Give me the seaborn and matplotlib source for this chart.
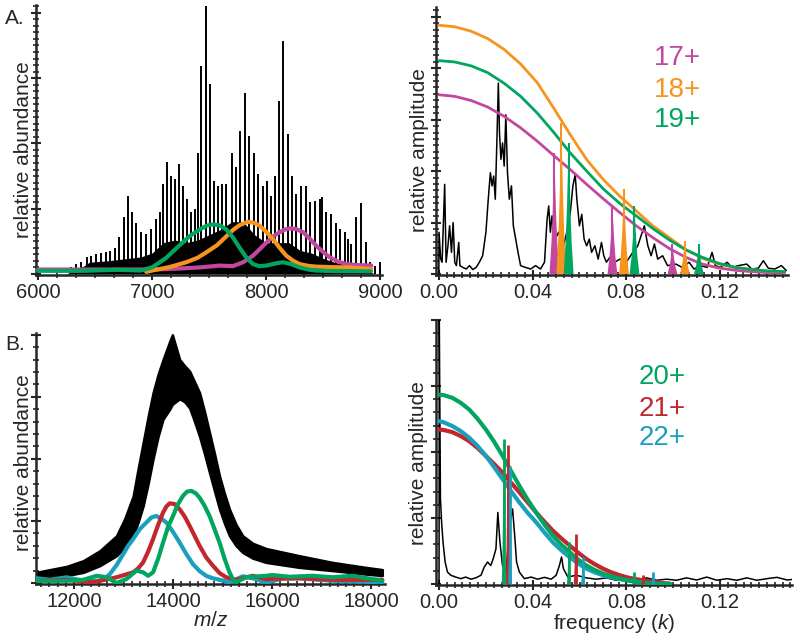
import numpy as np
import matplotlib
matplotlib.use("Agg")
import matplotlib.pyplot as plt
from matplotlib.ticker import AutoMinorLocator, FixedLocator, MultipleLocator, FormatStrFormatter
import seaborn as sns

sns.set_style("ticks")
plt.rcParams['font.family'] = ['Liberation Sans', 'DejaVu Sans']
plt.rcParams['mathtext.fontset'] = 'custom'
plt.rcParams['mathtext.rm'] = 'Liberation Sans'
plt.rcParams['mathtext.it'] = 'Liberation Sans:italic'

MAGENTA = "#C2479E"
ORANGE = "#F7941D"
GREEN = "#00A560"
RED = "#C1272D"
CYAN = "#1AA0BD"

# ---------------- Panel A, mass spectrum ----------------
a_peak_mz = [6292, 6336, 6380, 6430, 6468, 6512, 6556, 6594, 6629, 6673, 6711, 6751, 6790, 6827,
             6863, 6906, 6950, 6994, 7038, 7067, 7096, 7132, 7170, 7199, 7234, 7272, 7307, 7345,
             7374, 7404, 7433, 7471, 7506, 7541, 7579, 7617, 7652, 7702, 7740, 7775, 7813, 7851,
             7892, 7930, 7974, 8012, 8047, 8079, 8114, 8149, 8193, 8231, 8266, 8310, 8348, 8383,
             8427, 8471, 8494, 8529, 8573, 8617, 8646, 8690, 8719, 8749, 8787, 8836, 8874, 8909,
             8953, 8997]
a_peak_int = [0.025, 0.038, 0.045, 0.064, 0.07, 0.076, 0.08, 0.083, 0.089, 0.10, 0.14, 0.217, 0.30, 0.236,
              0.195, 0.16, 0.153, 0.172, 0.21, 0.236, 0.344, 0.427, 0.376, 0.363, 0.42, 0.338, 0.287, 0.236,
              0.248, 0.462, 0.796, 1.028, 0.726, 0.357, 0.338, 0.344, 0.344, 0.465, 0.408, 0.548, 0.694, 0.529,
              0.465, 0.382, 0.338, 0.357, 0.30, 0.376, 0.662, 0.892, 0.535, 0.376, 0.306, 0.338, 0.338, 0.274,
              0.28, 0.287, 0.293, 0.236, 0.229, 0.197, 0.172, 0.159, 0.134, 0.115, 0.217, 0.271, 0.121, 0.045,
              0.032, 0.045]
a_base_mz = [6250, 6300, 6400, 6450, 6600, 6700, 6800, 6900, 7000, 7100, 7200, 7300, 7400, 7500,
             7600, 7700, 7800, 7900, 8000, 8100, 8200, 8300, 8400, 8500, 8600, 8700, 8800, 8900, 8950]
a_base_int = [0.0, 0.012, 0.03, 0.045, 0.05, 0.055, 0.06, 0.065, 0.08, 0.12, 0.13, 0.12, 0.13, 0.15,
              0.17, 0.2, 0.2, 0.15, 0.12, 0.12, 0.12, 0.09, 0.08, 0.06, 0.045, 0.035, 0.025, 0.012, 0.0]

a_mz_19 = [6000, 6400, 6700, 6900, 7000, 7120, 7242, 7330, 7418, 7480, 7535, 7595, 7652, 7710, 7769,
           7830, 7886, 7940, 8003, 8080, 8149, 8220, 8295, 8370, 8441, 8600, 8920]
a_int_19 = [0.012, 0.012, 0.016, 0.013, 0.025, 0.06, 0.11, 0.145, 0.17, 0.185, 0.19, 0.186, 0.17, 0.14, 0.10,
            0.062, 0.038, 0.03, 0.032, 0.04, 0.045, 0.038, 0.025, 0.017, 0.013, 0.011, 0.01]
a_mz_18 = [6950, 7000, 7150, 7301, 7400, 7477, 7570, 7652, 7715, 7769, 7842, 7900, 7944, 8000, 8061,
           8120, 8178, 8240, 8295, 8370, 8441, 8600, 8734, 8924]
a_int_18 = [0.008, 0.013, 0.026, 0.045, 0.062, 0.083, 0.11, 0.144, 0.17, 0.187, 0.2, 0.195, 0.185, 0.162, 0.134,
            0.1, 0.07, 0.05, 0.038, 0.031, 0.028, 0.026, 0.025, 0.019]
a_mz_17 = [6000, 6500, 7000, 7200, 7418, 7593, 7710, 7800, 7886, 7945, 8003, 8060, 8120, 8170, 8216,
           8270, 8325, 8385, 8441, 8500, 8558, 8630, 8705, 8800, 8924]
a_int_17 = [0.017, 0.017, 0.017, 0.02, 0.025, 0.032, 0.03, 0.045, 0.07, 0.095, 0.12, 0.143, 0.16, 0.171, 0.175,
            0.171, 0.16, 0.135, 0.108, 0.085, 0.064, 0.048, 0.038, 0.034, 0.032]

# ---------------- Panel A, frequency spectrum ----------------
a_k = [0.0, 0.0001, 0.0008, 0.0014, 0.0025, 0.0031, 0.0039, 0.0046, 0.0054, 0.0061, 0.0068, 0.0075,
       0.0085, 0.009, 0.0103, 0.0117, 0.0131, 0.0145, 0.0159, 0.0173, 0.0187, 0.0201, 0.0211, 0.022,
       0.0227, 0.0234, 0.0241, 0.0248, 0.0254, 0.0259, 0.0265, 0.0272, 0.0279, 0.0286, 0.0293, 0.0301,
       0.031, 0.0318, 0.0328, 0.0338, 0.0349, 0.037, 0.0392, 0.0413, 0.0434, 0.0451, 0.0462, 0.0469,
       0.0476, 0.0483, 0.0497, 0.0511, 0.0532, 0.0546, 0.0561, 0.0572, 0.0582, 0.0589, 0.06, 0.061,
       0.062, 0.0631, 0.0642, 0.0652, 0.0666, 0.068, 0.0694, 0.0704, 0.0715, 0.073, 0.0751, 0.0772,
       0.08, 0.0828, 0.0849, 0.0868, 0.0877, 0.0892, 0.0906, 0.092, 0.0934, 0.0955, 0.0976, 0.1011,
       0.1039, 0.1068, 0.1089, 0.1117, 0.1145, 0.1166, 0.118, 0.1201, 0.123, 0.1251, 0.1279, 0.1314,
       0.1335, 0.1363, 0.1385, 0.1406, 0.1434, 0.1462, 0.1483]
a_amp = [0.0, 0.16, 0.057, 0.045, 0.344, 0.045, 0.108, 0.185, 0.083, 0.197, 0.045, 0.032,
         0.121, 0.032, 0.025, 0.019, 0.032, 0.017, 0.025, 0.045, 0.07, 0.16, 0.287, 0.389,
         0.338, 0.376, 0.287, 0.516, 0.733, 0.541, 0.44, 0.503, 0.414, 0.611, 0.389, 0.287,
         0.338, 0.185, 0.134, 0.083, 0.032, 0.025, 0.019, 0.032, 0.019, 0.045, 0.21, 0.261,
         0.16, 0.223, 0.134, 0.16, 0.108, 0.16, 0.236, 0.338, 0.382, 0.287, 0.185, 0.229,
         0.134, 0.108, 0.134, 0.083, 0.108, 0.057, 0.121, 0.07, 0.045, 0.064, 0.045, 0.057,
         0.045, 0.083, 0.108, 0.16, 0.185, 0.108, 0.07, 0.115, 0.057, 0.07, 0.032, 0.038,
         0.025, 0.045, 0.019, 0.032, 0.025, 0.083, 0.032, 0.025, 0.045, 0.025, 0.032, 0.038,
         0.019, 0.022, 0.051, 0.022, 0.019, 0.032, 0.013]
a_env_k = [0.0, 0.00676, 0.0138, 0.02085, 0.02789, 0.03493, 0.04197, 0.04901, 0.05606, 0.0631, 0.07014,
           0.07718, 0.08423, 0.09127, 0.09831, 0.10535, 0.1124, 0.11944, 0.12648, 0.13352, 0.14056, 0.14761]
a_env_18 = [0.955, 0.949, 0.932, 0.904, 0.862, 0.806, 0.735, 0.637, 0.535, 0.439, 0.363,
            0.299, 0.242, 0.185, 0.14, 0.093, 0.06, 0.038, 0.025, 0.017, 0.011, 0.008]
a_env_19 = [0.819, 0.814, 0.799, 0.773, 0.732, 0.682, 0.618, 0.544, 0.465, 0.395, 0.327,
            0.271, 0.223, 0.175, 0.131, 0.093, 0.064, 0.041, 0.025, 0.017, 0.011, 0.009]
a_env_17 = [0.688, 0.682, 0.666, 0.641, 0.605, 0.561, 0.51, 0.455, 0.401, 0.344, 0.289,
            0.236, 0.185, 0.14, 0.098, 0.064, 0.038, 0.023, 0.014, 0.009, 0.005, 0.004]
a_spike_k_17 = [0.0493, 0.0741, 0.0997]
a_spike_h_17 = [0.465, 0.261, 0.115]
a_spike_k_18 = [0.0523, 0.079, 0.105]
a_spike_h_18 = [0.58, 0.327, 0.127]
a_spike_k_19 = [0.0554, 0.0835, 0.111]
a_spike_h_19 = [0.503, 0.261, 0.115]

# ---------------- Panel B, mass spectrum ----------------
b_band_mz = [11235, 11852, 12188, 12523, 12859, 13027, 13195, 13295, 13396, 13497, 13597, 13698, 13799,
             13933, 13987, 14134, 14235, 14336, 14436, 14537, 14637, 14738, 14839, 14940, 15040, 15141,
             15275, 15409, 15611, 15879, 16550, 17221, 17893, 18228]
b_band_top = [0.043, 0.067, 0.09, 0.13, 0.19, 0.26, 0.35, 0.46, 0.565, 0.67, 0.766, 0.84, 0.9,
              0.973, 1.0, 0.9, 0.875, 0.853, 0.81, 0.766, 0.69, 0.605, 0.52, 0.43, 0.36, 0.297,
              0.235, 0.19, 0.16, 0.139, 0.11, 0.083, 0.063, 0.054]
b_band_bottom = [0.019, 0.03, 0.043, 0.07, 0.11, 0.145, 0.19, 0.245, 0.31, 0.40, 0.5, 0.59, 0.66,
                 0.70, 0.72, 0.742, 0.73, 0.705, 0.65, 0.59, 0.52, 0.444, 0.37, 0.297, 0.24, 0.19,
                 0.15, 0.123, 0.1, 0.083, 0.063, 0.05, 0.036, 0.03]
b_mz_20 = [11235, 11852, 12188, 12456, 12658, 12859, 13060, 13262, 13396, 13497, 13597, 13698, 13799,
           13899, 14000, 14101, 14201, 14282, 14369, 14456, 14537, 14637, 14738, 14839, 14940, 15040,
           15141, 15208, 15275, 15476, 15879, 16013, 16349, 16819, 17221, 17624, 18228]
b_int_20 = [0.009, 0.009, 0.013, 0.029, 0.023, 0.0, 0.016, 0.05, 0.043, 0.029, 0.043, 0.097, 0.163,
            0.225, 0.27, 0.318, 0.351, 0.368, 0.371, 0.362, 0.344, 0.311, 0.27, 0.217, 0.163, 0.099,
            0.043, 0.016, 0.003, 0.023, 0.029, 0.032, 0.025, 0.029, 0.023, 0.029, 0.009]
b_mz_21 = [11235, 11852, 12389, 12859, 13195, 13295, 13396, 13497, 13597, 13698, 13799, 13866, 13933,
           14033, 14134, 14235, 14336, 14436, 14537, 14671, 14805, 14940, 15074, 15275, 15611, 15879,
           16550, 17221, 18228]
b_int_21 = [0.009, 0.013, 0.003, 0.023, 0.043, 0.059, 0.083, 0.126, 0.177, 0.233, 0.284, 0.308, 0.321,
            0.318, 0.297, 0.268, 0.23, 0.19, 0.15, 0.103, 0.07, 0.04, 0.023, 0.013, 0.029, 0.016,
            0.019, 0.013, 0.013]
b_mz_22 = [11235, 11517, 11852, 12188, 12523, 12624, 12725, 12859, 12993, 13094, 13195, 13329, 13463,
           13564, 13664, 13765, 13866, 14000, 14134, 14268, 14403, 14537, 14671, 14805, 14940, 15141,
           15409, 15678, 15879, 16215, 16550, 17221, 18228]
b_int_22 = [0.019, 0.013, 0.023, 0.009, 0.009, 0.019, 0.036, 0.072, 0.116, 0.15, 0.177, 0.217, 0.244,
            0.264, 0.27, 0.259, 0.244, 0.206, 0.163, 0.117, 0.076, 0.048, 0.029, 0.019, 0.013, 0.003,
            0.027, 0.016, 0.0, 0.019, 0.019, 0.009, 0.003]

# ---------------- Panel B, frequency spectrum ----------------
b_k = [0.0, 0.0001, 0.0006, 0.0011, 0.0017, 0.0026, 0.0036, 0.005, 0.0071, 0.0093, 0.0114, 0.0136,
       0.0157, 0.0179, 0.0193, 0.0207, 0.0221, 0.0231, 0.0243, 0.0251, 0.026, 0.0271, 0.0286, 0.0303,
       0.0314, 0.0323, 0.0331, 0.0343, 0.0364, 0.0393, 0.0421, 0.045, 0.0479, 0.05, 0.0514, 0.0523,
       0.0531, 0.055, 0.0586, 0.0629, 0.0671, 0.0714, 0.0757, 0.08, 0.0843, 0.0886, 0.0929, 0.0971,
       0.1014, 0.1057, 0.11, 0.1143, 0.1186, 0.1229, 0.1271, 0.1314, 0.1357, 0.14, 0.1443, 0.1486, 0.1521]
b_amp = [0.0, 1.0, 0.322, 0.234, 0.158, 0.083, 0.045, 0.033, 0.026, 0.02, 0.026, 0.018,
         0.023, 0.033, 0.064, 0.083, 0.07, 0.095, 0.133, 0.271, 0.158, 0.07, 0.045, 0.234,
         0.284, 0.183, 0.083, 0.045, 0.02, 0.026, 0.018, 0.025, 0.018, 0.033, 0.07, 0.102,
         0.058, 0.026, 0.033, 0.023, 0.018, 0.023, 0.014, 0.02, 0.014, 0.023, 0.014, 0.018,
         0.014, 0.023, 0.015, 0.026, 0.014, 0.02, 0.014, 0.023, 0.014, 0.02, 0.025, 0.015, 0.018]
b_env_k = [0.0, 0.00214, 0.00571, 0.00929, 0.01286, 0.01643, 0.02, 0.02357, 0.02714, 0.03071, 0.03429,
           0.03786, 0.04143, 0.045, 0.04857, 0.05214, 0.05571, 0.05929, 0.06286, 0.06643, 0.07, 0.07357,
           0.07714, 0.08071, 0.08429, 0.08786, 0.09143, 0.095, 0.09857]
b_env_20 = [0.717, 0.715, 0.705, 0.686, 0.661, 0.626, 0.585, 0.538, 0.485, 0.428, 0.372, 0.319,
            0.271, 0.225, 0.183, 0.149, 0.121, 0.093, 0.07, 0.053, 0.039, 0.029, 0.02, 0.014, 0.008,
            0.004, 0.0, 0.0, 0.0]
b_env_21 = [0.585, 0.583, 0.575, 0.56, 0.541, 0.515, 0.485, 0.454, 0.422, 0.384, 0.347, 0.309,
            0.271, 0.236, 0.202, 0.173, 0.146, 0.119, 0.095, 0.075, 0.058, 0.044, 0.033, 0.024, 0.018,
            0.013, 0.008, 0.004, 0.001]
b_env_22 = [0.617, 0.612, 0.598, 0.579, 0.554, 0.523, 0.485, 0.442, 0.397, 0.352, 0.309, 0.269,
            0.234, 0.195, 0.158, 0.128, 0.102, 0.078, 0.058, 0.044, 0.033, 0.025, 0.018, 0.013, 0.008,
            0.004, 0.001, 0.0, 0.0]
b_spike_k_20 = [0.0276, 0.0554, 0.0833]
b_spike_h_20 = [0.548, 0.158, 0.045]
b_spike_k_21 = [0.0293, 0.0583, 0.0871]
b_spike_h_21 = [0.525, 0.19, 0.035]
b_spike_k_22 = [0.0303, 0.0614, 0.0914]
b_spike_h_22 = [0.447, 0.102, 0.045]

a_labels = ["17+", "18+", "19+"]
b_labels = ["20+", "21+", "22+"]

# ---------------- figure ----------------
W, H = 800, 644
fig = plt.figure(figsize=(8, 6.44), dpi=100)


def px_axes(l, t, r, b):
    return fig.add_axes([l / W, 1 - b / H, (r - l) / W, (b - t) / H])


axA1 = px_axes(36, 5, 382, 275)
axA2 = px_axes(436, 7, 788, 275)
axB1 = px_axes(36, 333, 385, 584)
axB2 = px_axes(436, 320, 792, 585)

TICK_FS = 14.5
LAB_FS = 15
LEG_FS = 20


def style(ax, xmaj, xminor, ymaj, yminor):
    sns.despine(ax=ax)
    ax.spines['left'].set_linewidth(1.8)
    ax.spines['bottom'].set_linewidth(1.8)
    ax.xaxis.set_major_locator(MultipleLocator(xmaj))
    ax.xaxis.set_minor_locator(AutoMinorLocator(xminor))
    ax.yaxis.set_major_locator(FixedLocator(ymaj))
    ax.yaxis.set_minor_locator(AutoMinorLocator(yminor))
    ax.tick_params(axis='both', which='major', direction='inout', length=7, width=1.5,
                   labelsize=TICK_FS, pad=2)
    ax.tick_params(axis='both', which='minor', direction='inout', length=4, width=1.2)
    ax.set_yticklabels([])
    ax.set_xlabel("")
    ax.set_ylabel("")


def spikes(ax, ks, hs, color, w, lw):
    for c, h in zip(ks, hs):
        ax.fill([c - w, c - 0.6 * w, c - 0.35 * w, c - 0.12 * w, c, c + 0.12 * w, c + 0.35 * w, c + 0.6 * w, c + w],
                [0, 0.25 * h, 0.5 * h, 0.8 * h, h, 0.8 * h, 0.5 * h, 0.25 * h, 0],
                color=color, lw=0, zorder=4)
        ax.vlines(c, 0, h, color=color, lw=lw, zorder=4)


def curve(ax, x, y, color, lw, z=3):
    sns.lineplot(x=np.asarray(x), y=np.asarray(y), ax=ax, color=color, linewidth=lw,
                 sort=False, estimator=None, zorder=z)


# Panel A left
axA1.fill_between(a_base_mz, 0, a_base_int, color='black', lw=0, zorder=1)
axA1.vlines(a_peak_mz, 0, a_peak_int, color='black', lw=1.4, zorder=2)
curve(axA1, a_mz_17, a_int_17, MAGENTA, 3.0)
curve(axA1, a_mz_18, a_int_18, ORANGE, 3.0)
curve(axA1, a_mz_19, a_int_19, GREEN, 3.0)
axA1.set_xlim(5982, 9018)
axA1.set_ylim(-0.004, 1.03)
style(axA1, 1000, 6, [0, 0.25, 0.5, 0.75, 1.0], 10)
axA1.set_ylabel("relative abundance", fontsize=LAB_FS)
axA1.yaxis.set_label_coords(-0.009, 0.463)

# Panel A right
curve(axA2, a_k, a_amp, 'black', 1.1, z=2)
spikes(axA2, a_spike_k_17, a_spike_h_17, MAGENTA, 0.0021, 1.5)
spikes(axA2, a_spike_k_18, a_spike_h_18, ORANGE, 0.0021, 1.5)
spikes(axA2, a_spike_k_19, a_spike_h_19, GREEN, 0.0021, 1.5)
curve(axA2, a_env_k, a_env_17, MAGENTA, 2.0)
curve(axA2, a_env_k, a_env_18, ORANGE, 2.0)
curve(axA2, a_env_k, a_env_19, GREEN, 2.0)
axA2.set_xlim(-0.0012, 0.149)
axA2.set_ylim(-0.004, 1.025)
style(axA2, 0.04, 12, [0, 0.1975, 0.395, 0.5925, 0.79, 0.9875], 8)
axA2.xaxis.set_major_formatter(FormatStrFormatter('%.2f'))
axA2.set_ylabel("relative amplitude", fontsize=LAB_FS)
axA2.yaxis.set_label_coords(-0.02, 0.466)
for lab, col, yy in zip(a_labels, [MAGENTA, ORANGE, GREEN], [58, 90, 120]):
    fig.text(677 / W, 1 - yy / H, lab, color=col, fontsize=LEG_FS, ha='center', va='center')

# Panel B left
axB1.fill_between(b_band_mz, b_band_bottom, b_band_top, color='black', lw=1.8, zorder=1)
curve(axB1, b_mz_22, b_int_22, CYAN, 3.0)
curve(axB1, b_mz_21, b_int_21, RED, 3.0)
curve(axB1, b_mz_20, b_int_20, GREEN, 3.0)
axB1.set_xlim(11232, 18283)
axB1.set_ylim(-0.004, 1.007)
style(axB1, 2000, 12, [0, 0.25, 0.5, 0.75, 1.0], 5)
axB1.set_ylabel("relative abundance", fontsize=LAB_FS)
axB1.yaxis.set_label_coords(-0.009, 0.482)
axB1.set_xlabel("$m/z$", fontsize=LAB_FS, labelpad=0)

# Panel B right
curve(axB2, b_k, b_amp, 'black', 1.1, z=2)
spikes(axB2, b_spike_k_20, b_spike_h_20, GREEN, 0.0008, 2.0)
spikes(axB2, b_spike_k_21, b_spike_h_21, RED, 0.0008, 2.0)
spikes(axB2, b_spike_k_22, b_spike_h_22, CYAN, 0.0008, 2.0)
curve(axB2, b_env_k, b_env_21, RED, 3.0)
curve(axB2, b_env_k, b_env_22, CYAN, 3.0)
curve(axB2, b_env_k, b_env_20, GREEN, 3.0)
axB2.set_xlim(-0.0013, 0.1507)
axB2.set_ylim(-0.004, 1.0)
style(axB2, 0.04, 12, [0, 0.25, 0.5, 0.75, 1.0], 5)
axB2.xaxis.set_major_formatter(FormatStrFormatter('%.2f'))
axB2.set_ylabel("relative amplitude", fontsize=LAB_FS)
axB2.yaxis.set_label_coords(-0.022, 0.46)
axB2.set_xlabel("frequency ($k$)", fontsize=LAB_FS, labelpad=0)
for lab, col, yy in zip(b_labels, [GREEN, RED, CYAN], [377, 409, 438]):
    fig.text(662 / W, 1 - yy / H, lab, color=col, fontsize=LEG_FS, ha='center', va='center')

fig.text(15 / W, 1 - 19 / H, "A.", fontsize=LAB_FS, ha='center', va='center')
fig.text(15 / W, 1 - 344 / H, "B.", fontsize=LAB_FS, ha='center', va='center')

fig.savefig("out.png", dpi=100)
